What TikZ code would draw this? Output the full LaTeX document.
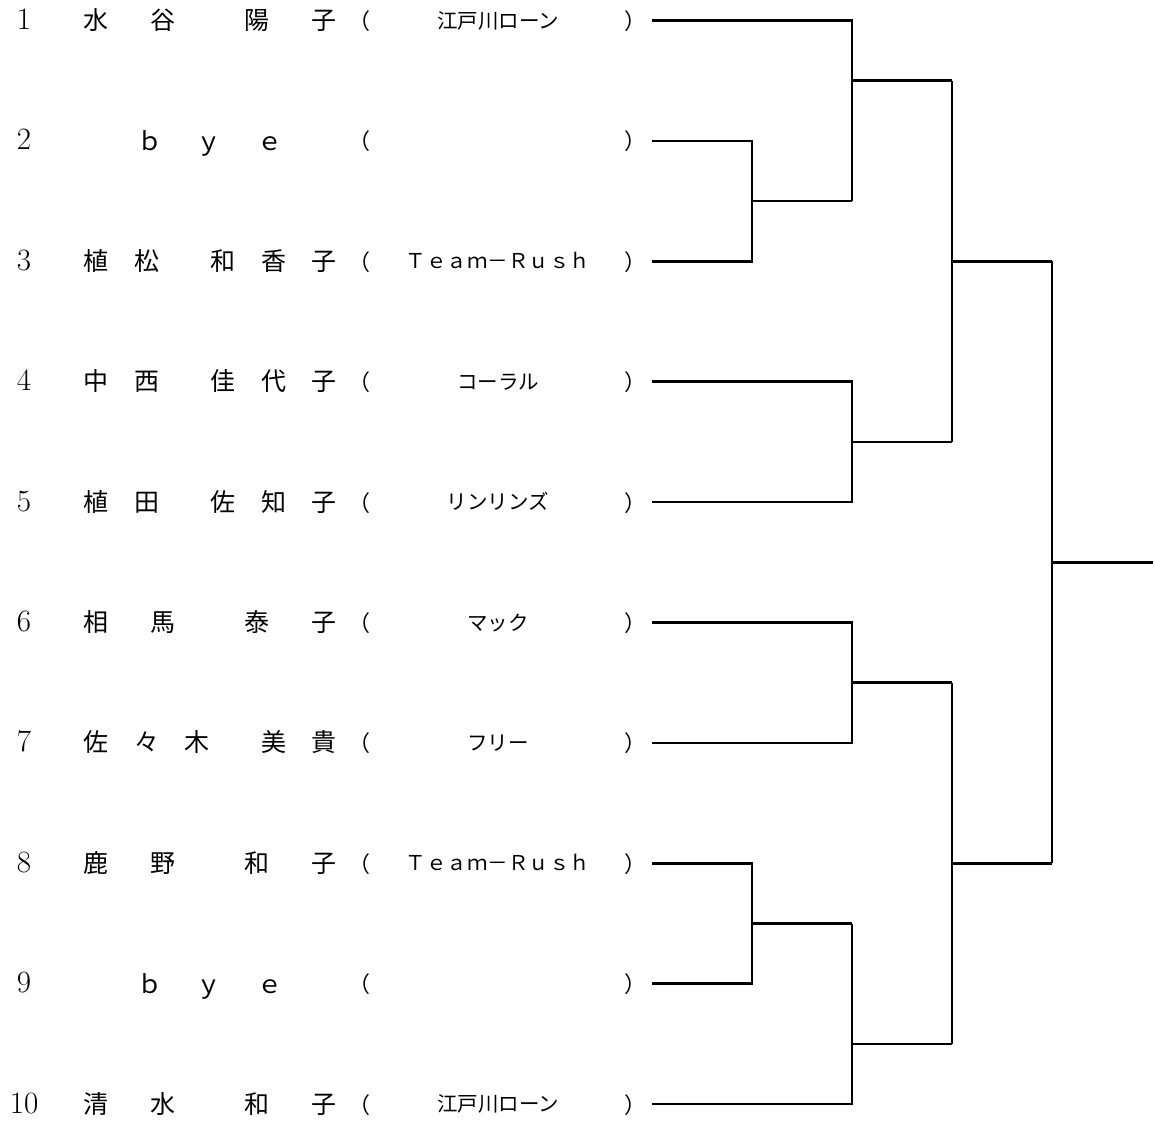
\documentclass[tikz,border=0pt]{standalone}
\usepackage{fontspec}
\newfontfamily\jpfam{Noto Sans CJK JP}
\newcommand\numfnt{\fontsize{31}{31}\selectfont}
\newcommand\namefnt{\jpfam\fontsize{25}{25}\selectfont}
\newcommand\teamfnt{\jpfam\fontsize{20.5}{20.5}\selectfont}
\newcommand\parfnt{\jpfam\fontsize{22}{22}\selectfont}
\tikzset{
  num/.style={font=\numfnt, anchor=base, inner sep=0pt},
  nm/.style={font=\namefnt, anchor=base, inner sep=0pt},
  tm/.style={font=\teamfnt, anchor=base, inner sep=0pt},
  pr/.style={font=\parfnt, anchor=base, inner sep=0pt},
  br/.style={line width=2.6pt, line join=miter},
}
\begin{document}
\begin{tikzpicture}[x=1pt,y=-1pt]
\useasboundingbox (0,0) rectangle (1155,1122);
% numbers
\node[num] (n1) at (24,29.5) {1};
\node[num] (n2) at (24,149.9) {2};
\node[num] (n3) at (24,270.3) {3};
\node[num] (n4) at (24,390.7) {4};
\node[num] (n5) at (24,511.1) {5};
\node[num] (n6) at (24,631.5) {6};
\node[num] (n7) at (24,751.9) {7};
\node[num] (n8) at (24,872.3) {8};
\node[num] (n9) at (24,992.7) {9};
\node[num] (n10) at (24,1113.1) {10};
% names
\node[nm] (a1) at (95.5,29.5) {水};
\node[nm] (b1) at (162.5,29.5) {谷};
\node[nm] (c1) at (257,29.5) {陽};
\node[nm] (d1) at (324,29.5) {子};
\node[nm] (a2) at (150,150.9) {ｂ};
\node[nm] (b2) at (209,150.9) {ｙ};
\node[nm] (c2) at (270,150.9) {ｅ};
\node[nm] (a3) at (95.5,270.3) {植};
\node[nm] (b3) at (147,270.3) {松};
\node[nm] (c3) at (223,270.3) {和};
\node[nm] (d3) at (273.5,270.3) {香};
\node[nm] (e3t) at (324,270.3) {子};
\node[nm] (a4) at (95.5,390.7) {中};
\node[nm] (b4) at (147,390.7) {西};
\node[nm] (c4) at (223,390.7) {佳};
\node[nm] (d4) at (273.5,390.7) {代};
\node[nm] (e4t) at (324,390.7) {子};
\node[nm] (a5) at (95.5,511.1) {植};
\node[nm] (b5) at (147,511.1) {田};
\node[nm] (c5) at (223,511.1) {佐};
\node[nm] (d5) at (273.5,511.1) {知};
\node[nm] (e5t) at (324,511.1) {子};
\node[nm] (a6) at (95.5,631.5) {相};
\node[nm] (b6) at (162.5,631.5) {馬};
\node[nm] (c6) at (257,631.5) {泰};
\node[nm] (d6) at (324,631.5) {子};
\node[nm] (a7) at (95.5,751.9) {佐};
\node[nm] (b7) at (146.5,751.9) {々};
\node[nm] (c7) at (196.5,751.9) {木};
\node[nm] (d7) at (273.5,751.9) {美};
\node[nm] (e7t) at (324,751.9) {貴};
\node[nm] (a8) at (95.5,872.3) {鹿};
\node[nm] (b8) at (162.5,872.3) {野};
\node[nm] (c8) at (257,872.3) {和};
\node[nm] (d8) at (324,872.3) {子};
\node[nm] (a9) at (150,993.7) {ｂ};
\node[nm] (b9) at (209,993.7) {ｙ};
\node[nm] (c9) at (270,993.7) {ｅ};
\node[nm] (a10) at (95.5,1113.1) {清};
\node[nm] (b10) at (162.5,1113.1) {水};
\node[nm] (c10) at (257,1113.1) {和};
\node[nm] (d10) at (324,1113.1) {子};
% parentheses
\foreach \i/\y in {1/29.5,2/149.9,3/270.3,4/390.7,5/511.1,6/631.5,7/751.9,8/872.3,9/992.7,10/1113.1}{
  \node[pr, anchor=base east] (po\i) at (371,\y) {（};
  \node[pr, anchor=base west] (pc\i) at (624,\y) {）};
}
% teams
\node[tm] (t1) at (498,28) {江戸川ローン};
\node[tm] (t3) at (498,268.8) {Ｔｅａｍ－Ｒｕｓｈ};
\node[tm] (t4) at (498,389.2) {コーラル};
\node[tm] (t5) at (498,509.6) {リンリンズ};
\node[tm] (t6) at (498,630) {マック};
\node[tm] (t7) at (498,750.4) {フリー};
\node[tm] (t8) at (498,870.8) {Ｔｅａｍ－Ｒｕｓｈ};
\node[tm] (t10) at (498,1111.6) {江戸川ローン};
% bracket coordinates
\coordinate (e1) at (652,20.5);
\coordinate (e2) at (652,140.9);
\coordinate (e3) at (652,261.3);
\coordinate (e4) at (652,381.7);
\coordinate (e5) at (652,502.1);
\coordinate (e6) at (652,622.5);
\coordinate (e7) at (652,742.9);
\coordinate (e8) at (652,863.3);
\coordinate (e9) at (652,983.7);
\coordinate (e10) at (652,1104.1);
\coordinate (j23) at (752,201.1);
\coordinate (k23) at (852,201.1);
\coordinate (jA) at (852,80.7);
\coordinate (kA) at (952,80.7);
\coordinate (jB) at (852,441.9);
\coordinate (kB) at (952,441.9);
\coordinate (jS1) at (952,261.3);
\coordinate (kS1) at (1052,261.3);
\coordinate (jC) at (852,682.7);
\coordinate (kC) at (952,682.7);
\coordinate (j89) at (752,923.5);
\coordinate (k89) at (852,923.5);
\coordinate (jD) at (852,1043.9);
\coordinate (kD) at (952,1043.9);
\coordinate (jS2) at (952,863.3);
\coordinate (kS2) at (1052,863.3);
\coordinate (jF) at (1052,562.3);
\coordinate (champ) at (1153,562.3);
% bracket lines
\draw[br] (e2) -| (j23) |- (e3);
\draw[br] (j23) -- (k23);
\draw[br] (e1) -| (jA) |- (k23);
\draw[br] (jA) -- (kA);
\draw[br] (e4) -| (jB) |- (e5);
\draw[br] (jB) -- (kB);
\draw[br] (kA) -- (kB);
\draw[br] (jS1) -- (kS1);
\draw[br] (e6) -| (jC) |- (e7);
\draw[br] (jC) -- (kC);
\draw[br] (e8) -| (j89) |- (e9);
\draw[br] (j89) -- (k89);
\draw[br] (e10) -| (k89);
\draw[br] (jD) -- (kD);
\draw[br] (kC) -- (kD);
\draw[br] (jS2) -- (kS2);
\draw[br] (kS1) -- (kS2);
\draw[br] (jF) -- (champ);
\end{tikzpicture}
\end{document}
